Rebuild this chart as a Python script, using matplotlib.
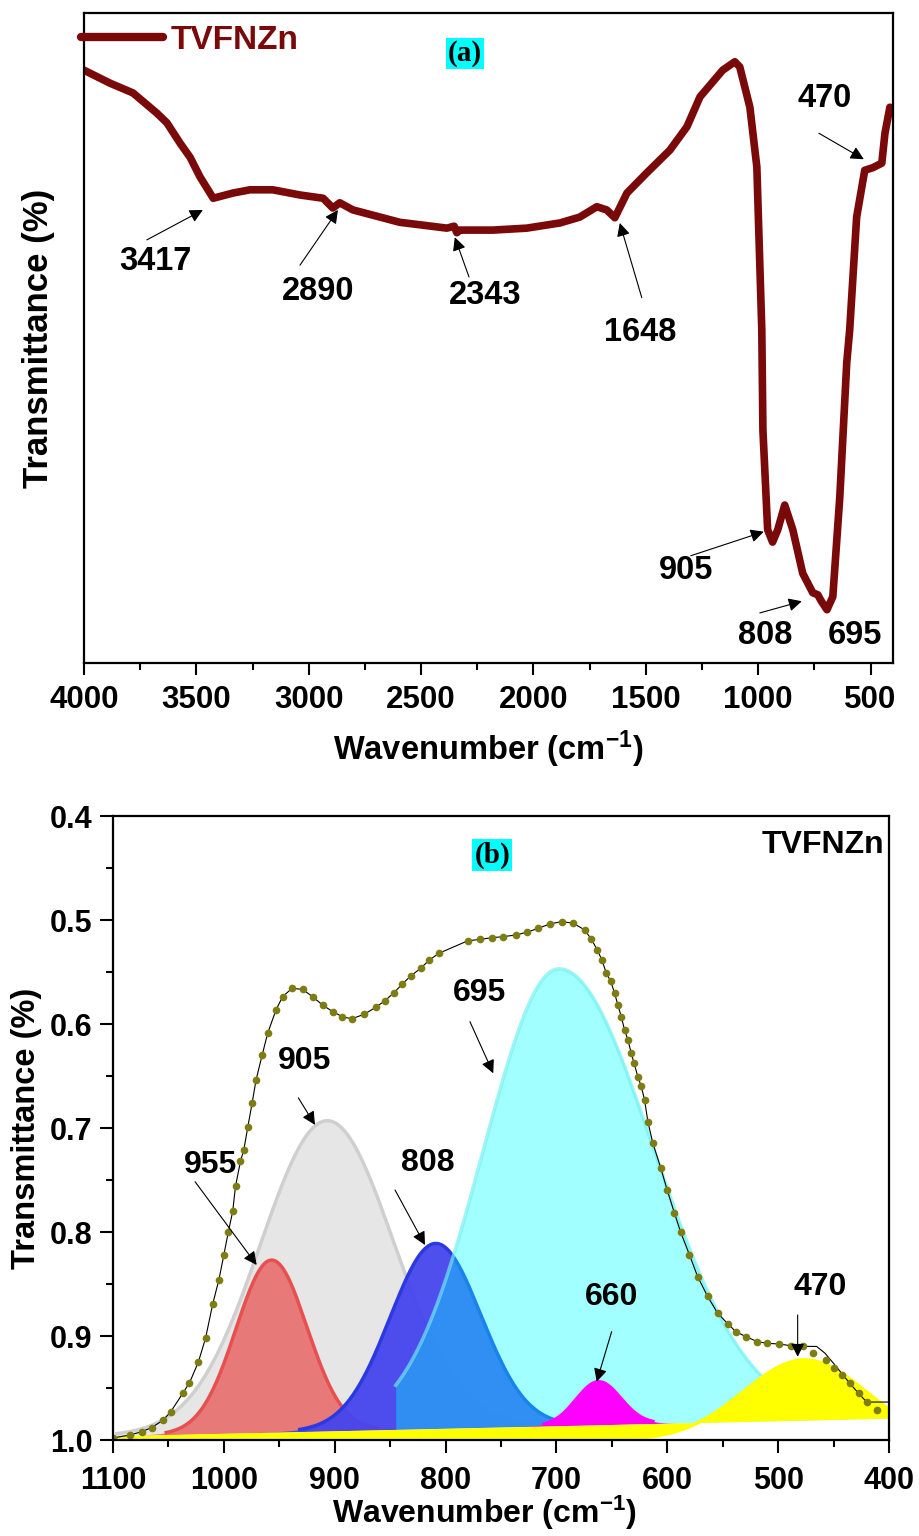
import matplotlib
matplotlib.use("Agg")
import matplotlib.pyplot as plt
import numpy as np
from matplotlib.ticker import MultipleLocator, FormatStrFormatter

plt.rcParams['font.family'] = ['Liberation Sans', 'DejaVu Sans']
plt.rcParams['font.weight'] = 'bold'
plt.rcParams['axes.labelweight'] = 'bold'
plt.rcParams['mathtext.fontset'] = 'custom'
plt.rcParams['mathtext.rm'] = 'Liberation Sans:bold'
plt.rcParams['mathtext.bf'] = 'Liberation Sans:bold'
plt.rcParams['mathtext.default'] = 'bf'

# ---- panel (a): full FTIR spectrum (arbitrary transmittance units) ----
ftir_wn = [4000, 3884, 3782, 3676, 3631, 3573, 3528, 3484, 3425, 3337, 3261, 3160,
           3039, 2936, 2893, 2862, 2803, 2595, 2385, 2353, 2341, 2328, 2181, 2030,
           1882, 1794, 1718, 1674, 1638, 1584, 1496, 1393, 1317, 1259, 1158, 1104,
           1082, 1037, 1006, 984, 979, 958, 936, 913, 882, 846, 802, 757, 735, 719,
           694, 668, 637, 606, 593, 562, 526, 490, 450, 436, 414]
ftir_t = [91.2, 89.2, 87.7, 84.6, 83.1, 80.0, 77.8, 74.8, 71.5, 72.3, 72.8, 72.8,
          72.0, 71.5, 70.0, 70.8, 69.7, 67.8, 66.9, 67.2, 66.2, 66.6, 66.6, 66.9,
          67.7, 68.6, 70.2, 69.7, 68.5, 72.3, 75.4, 78.9, 82.5, 87.1, 91.2, 92.5,
          91.7, 85.5, 76.3, 51.2, 35.8, 20.5, 18.6, 20.5, 24.3, 20.5, 13.8, 10.8, 10.5, 9.5,
          8.2, 10.2, 25.5, 46.2, 51.2, 68.6, 75.8, 76.2, 76.9, 81.5, 85.5]

# labels: text, text position, arrow start, arrow tip (None = no arrow)
a_labels = ['3417', '2890', '2343', '1648', '905', '808', '695', '470']
a_text_xy = [(3684, 61.7), (2959, 57.1), (2216, 56.5), (1527, 50.8),
             (1322, 14.2), (971, 4.3), (570, 4.3), (704, 86.9)]
a_arrow_from = [(3720, 65.1), (3039, 61.2), (2287, 59.4), (1518, 56.2),
                (1300, 16.5), (993, 7.7), None, (730, 81.5)]
a_arrow_to = [(3471, 69.7), (2870, 69.7), (2350, 65.5), (1616, 67.7),
              (975, 20.2), (806, 9.5), None, (530, 77.5)]

# ---- panel (b): deconvolution 1100-400 cm-1 ----
base_wn = [1100, 400]
base_t = [0.996, 0.979]

peak_names = ['905', '955', '808', '695', '660', '470']
peak_center = [907, 957, 809, 698, 662, 476]
peak_top = [0.693, 0.827, 0.811, 0.547, 0.944, 0.923]
peak_sigma_lo = [60, 32, 41, 85, 20, 55]   # low-wavenumber side
peak_sigma_hi = [60, 32, 41, 68, 20, 55]   # high-wavenumber side
peak_hi = [1100, 1100, 1100, 845, 1100, 1100]   # upper end of each fitted band
peak_fill = ['#e6e6e6', '#e87070', '#4545ee', '#00ffff', '#ff00ff', '#ffff00']
peak_edge = ['#cfcfcf', '#e85050', '#2a3ae0', '#70f0f0', '#ff00ff', '#ffff00']
peak_alpha = [1.0, 0.92, 0.95, 0.37, 1.0, 1.0]

env_wn = [1100, 1096.7, 1084.7, 1074, 1065, 1055, 1048, 1037, 1031, 1023, 1016.5,
          1010, 1004.5, 1000, 996, 992, 989.5, 985, 982, 978.4, 974.5, 971, 965.5,
          960.5, 953, 947, 938.5, 929, 920, 911, 902, 893, 884.6, 873.6, 863, 854.7,
          846.6, 839, 831.6, 822.6, 814.6, 806, 780, 768.7, 758, 747.8, 736.7, 726.8,
          716.4, 706, 695.4, 685, 674.4, 668.5, 663, 659, 655, 651, 647.5, 644.5,
          641.5, 638.5, 635.5, 632.5, 630, 626.5, 623.5, 620.5, 617.5, 613, 606, 600,
          593.5, 588, 580, 572.6, 563.6, 554.6, 545.6, 538, 529, 518.7, 509.7, 499.2,
          488.8, 478]
env_t = [0.998, 0.9974, 0.9952, 0.992, 0.988, 0.981, 0.973, 0.955, 0.945, 0.925, 0.902,
         0.869, 0.846, 0.822, 0.800, 0.780, 0.756, 0.732, 0.721, 0.699, 0.676, 0.654, 0.630,
         0.609, 0.5865, 0.5737, 0.5657, 0.5667, 0.5737, 0.5817, 0.588, 0.593, 0.595, 0.5907,
         0.584, 0.5776, 0.570, 0.5615, 0.554, 0.5465, 0.5385, 0.532, 0.520, 0.5186, 0.517,
         0.516, 0.5144, 0.5118, 0.508, 0.5038, 0.5016, 0.503, 0.5096, 0.5186, 0.529, 0.5385,
         0.551, 0.559, 0.5705, 0.582, 0.593, 0.6058, 0.6154, 0.628, 0.6378, 0.6507, 0.660,
         0.673, 0.694, 0.7147, 0.738, 0.760, 0.782, 0.800, 0.822, 0.843, 0.862, 0.878,
         0.888, 0.896, 0.9006, 0.9055, 0.907, 0.9077, 0.9093, 0.910]
# measured points and cumulative fit part ways below ~478 cm-1
data_tail_wn = [469, 457, 450, 442.3, 435, 427.3, 420, 411]
data_tail_t = [0.916, 0.923, 0.931, 0.9375, 0.9455, 0.955, 0.963, 0.971]
fit_tail_wn = [465.3, 457.7, 448.7, 435, 425, 420, 400]
fit_tail_t = [0.910, 0.9166, 0.928, 0.946, 0.958, 0.9635, 0.9635]

b_labels = ['955', '905', '808', '695', '660', '470']
b_text_xy = [(1012.5, 0.7356), (926.8, 0.6356), (815.9, 0.7337), (769, 0.570),
             (650, 0.8625), (462.3, 0.853)]
b_arrow_from = [(1026, 0.7516), (932.8, 0.671), (845.6, 0.7596), (778, 0.5978),
                (650.2, 0.8958), (482.4, 0.8798)]
b_arrow_to = [(970.4, 0.8317), (917.8, 0.697), (818.6, 0.8125), (757, 0.6474),
              (663.7, 0.944), (482.4, 0.92)]

fig = plt.figure(figsize=(9.2, 15.36), dpi=100)
ax1 = fig.add_axes([0.0913, 0.56836, 0.8794, 0.42318])
ax2 = fig.add_axes([0.12283, 0.0625, 0.84348, 0.40625])

arrow_kw = dict(arrowstyle='-|>', color='black', lw=0.8, mutation_scale=20,
                shrinkA=0, shrinkB=0)

# ---------------- panel (a) ----------------
ax1.plot(ftir_wn, ftir_t, color='#7a0a0a', lw=5.5, solid_joinstyle='round',
         solid_capstyle='round', label='TVFNZn')
ax1.set_xlim(4000, 400)
ax1.set_ylim(0, 100)
ax1.set_yticks([])
ax1.xaxis.set_major_locator(MultipleLocator(500))
ax1.xaxis.set_minor_locator(MultipleLocator(250))
ax1.tick_params(axis='x', which='major', direction='out', length=8.5, width=1.5,
                labelsize=22.5, pad=7.5)
ax1.tick_params(axis='x', which='minor', direction='out', length=4.8, width=1.5)
for s in ax1.spines.values():
    s.set_linewidth(1.6)
ax1.set_xlabel('Wavenumber (cm$^{-1}$)', fontsize=23.5)
ax1.xaxis.set_label_coords(0.5, -0.1015)
ax1.set_ylabel('Transmittance (%)', fontsize=25)
ax1.yaxis.set_label_coords(-0.036, 0.5)

leg = ax1.legend(loc='upper left', bbox_to_anchor=(-0.016, 0.997), frameon=False,
                 handlelength=2.46, handletextpad=0.24, borderaxespad=0, borderpad=0.3,
                 prop={'size': 24, 'weight': 'bold'}, labelcolor='linecolor')
for ln in leg.get_lines():
    ln.set_linewidth(6)
    ln.set_solid_capstyle('round')

for lab, txy, a0, a1 in zip(a_labels, a_text_xy, a_arrow_from, a_arrow_to):
    ax1.text(txy[0], txy[1], lab, fontsize=23.5, ha='center', va='center')
    if a0 is not None:
        ax1.annotate('', xy=a1, xytext=a0, arrowprops=arrow_kw)

ax1.text(2305, 93.7, '(a)', fontsize=21, ha='center', va='center',
         family='Liberation Serif', weight='bold',
         bbox=dict(facecolor='#00ffff', edgecolor='none', pad=1.5))

# ---------------- panel (b) ----------------
x = np.linspace(400, 1100, 1401)
base = np.interp(x, base_wn[::-1], base_t[::-1])

for i, (name, c, top, s_lo, s_hi, hi, fc, ec, al) in enumerate(
        zip(peak_names, peak_center, peak_top, peak_sigma_lo, peak_sigma_hi, peak_hi,
            peak_fill, peak_edge, peak_alpha)):
    sg = np.where(x < c, s_lo, s_hi)
    g = np.exp(-(x - c) ** 2 / (2 * sg ** 2))
    if name == '470':
        depth = 1.0 - top
        curve = 1.0 - depth * g
    else:
        depth = np.interp(c, base_wn[::-1], base_t[::-1]) - top
        curve = base - depth * g
    inside = x <= hi
    ax2.fill_between(x, curve, base, where=inside, color=fc, alpha=al, lw=0,
                     zorder=2 + i)
    edge = np.where(inside & (depth * g > 0.002), curve, np.nan)
    ax2.plot(x, edge, color=ec, lw=2.5, alpha=min(1.0, al + 0.3), zorder=2 + i)

fit_wn = env_wn + fit_tail_wn
fit_t = env_t + fit_tail_t
data_wn = env_wn + data_tail_wn
data_t = env_t + data_tail_t
ax2.plot(fit_wn, fit_t, color='black', lw=0.8, zorder=10)
ax2.plot(data_wn, data_t, ls='none', marker='o', ms=5.5, color='#7d7d12',
         markeredgewidth=0, markevery=0.0113, zorder=11)

ax2.set_xlim(1100, 400)
ax2.set_ylim(1.0, 0.4)
ax2.xaxis.set_major_locator(MultipleLocator(100))
ax2.xaxis.set_minor_locator(MultipleLocator(50))
ax2.yaxis.set_major_locator(MultipleLocator(0.1))
ax2.yaxis.set_minor_locator(MultipleLocator(0.05))
ax2.yaxis.set_major_formatter(FormatStrFormatter('%.1f'))
ax2.tick_params(which='major', direction='out', length=9.2, width=1.5, labelsize=22)
ax2.tick_params(which='minor', direction='out', length=4.8, width=1.5)
ax2.tick_params(axis='x', pad=9.5)
ax2.tick_params(axis='y', pad=5.5)
for s in ax2.spines.values():
    s.set_linewidth(1.6)
    s.set_zorder(20)
ax2.set_xlabel('Wavenumber (cm$^{-1}$)', fontsize=23)
ax2.xaxis.set_label_coords(0.479, -0.0865)
ax2.set_ylabel('Transmittance (%)', fontsize=23.5)
ax2.yaxis.set_label_coords(-0.0914, 0.5)

for lab, txy, a0, a1 in zip(b_labels, b_text_xy, b_arrow_from, b_arrow_to):
    ax2.text(txy[0], txy[1], lab, fontsize=23, ha='center', va='center', zorder=12)
    ax2.annotate('', xy=a1, xytext=a0, arrowprops=arrow_kw, zorder=12)

ax2.text(0.994, 0.9535, 'TVFNZn', transform=ax2.transAxes, fontsize=23,
         ha='right', va='center', zorder=12)
ax2.text(758, 0.4375, '(b)', fontsize=21, ha='center', va='center',
         family='Liberation Serif', weight='bold', zorder=12,
         bbox=dict(facecolor='#00ffff', edgecolor='none', pad=1.5))

fig.savefig('out.png', dpi=100)
